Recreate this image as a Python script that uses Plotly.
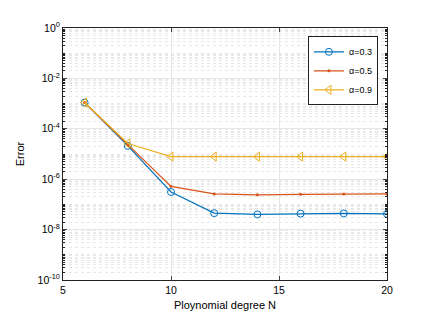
import plotly.graph_objects as go

# --- data ---
N = [6, 8, 10, 12, 14, 16, 18, 20]
err_03 = [1.1e-3, 2.1e-5, 3.1e-7, 4.5e-8, 4.0e-8, 4.3e-8, 4.4e-8, 4.2e-8]
err_05 = [1.1e-3, 2.3e-5, 5.2e-7, 2.6e-7, 2.4e-7, 2.5e-7, 2.6e-7, 2.6e-7]
err_09 = [1.1e-3, 2.6e-5, 7.9e-6, 7.9e-6, 7.9e-6, 7.9e-6, 7.9e-6, 7.9e-6]

x_ticks = [5, 10, 15, 20]
y_exps = [0, -2, -4, -6, -8, -10]

BLUE = "#0072BD"
ORANGE = "#D95319"
YELLOW = "#EDB120"

fig = go.Figure()
fig.add_trace(go.Scatter(
    x=N, y=err_03, mode="lines+markers", name="α=0.3",
    line=dict(color=BLUE, width=1.2),
    marker=dict(symbol="circle-open", size=7, color=BLUE, line=dict(width=1))
))
fig.add_trace(go.Scatter(
    x=N, y=err_05, mode="lines+markers", name="α=0.5",
    line=dict(color=ORANGE, width=1.2),
    marker=dict(symbol="circle", size=3, color=ORANGE)
))
fig.add_trace(go.Scatter(
    x=N, y=err_09, mode="lines+markers", name="α=0.9",
    line=dict(color=YELLOW, width=1.2),
    marker=dict(symbol="triangle-left-open", size=8, color=YELLOW, line=dict(width=1))
))

# minor log ticks (every k*10^n that is not a labelled tick)
major_vals = [10.0 ** e for e in y_exps]
minor_vals = []
for e in range(-10, 0):
    for k in range(1, 10):
        if k == 1 and e in y_exps:
            continue
        minor_vals.append(k * 10.0 ** e)

# page body has an 8px margin, so margins are shifted to compensate
fig.update_layout(
    width=433, height=320,
    paper_bgcolor="white", plot_bgcolor="white",
    margin=dict(l=49, r=54, t=12, b=48),
    font=dict(family="Liberation Sans, Arial", size=10.5, color="black"),
    legend=dict(
        x=0.972, y=0.967, xanchor="right", yanchor="top",
        bordercolor="#222", borderwidth=1, bgcolor="white",
        font=dict(size=9), tracegroupgap=0, itemwidth=30
    ),
    showlegend=True,
)
fig.update_xaxes(
    range=[5, 20], tickvals=x_ticks, ticks="inside", ticklen=4,
    showline=True, linecolor="#222", linewidth=1, mirror="ticks",
    showgrid=True, gridcolor="#e6e6e6", zeroline=False,
    title=dict(text="Ploynomial degree N", standoff=6, font=dict(size=11)),
)
fig.update_yaxes(
    type="log", range=[-10, 0],
    tickvals=major_vals,
    ticktext=["10<sup>%d</sup>" % e for e in y_exps],
    ticks="inside", ticklen=4,
    showline=True, linecolor="#222", linewidth=1, mirror="ticks",
    showgrid=True, gridcolor="#e6e6e6", zeroline=False,
    minor=dict(tickvals=minor_vals, ticks="inside", ticklen=2, tickcolor="#222",
               showgrid=True, gridcolor="#e8e8e8", griddash="dot", gridwidth=1),
    title=dict(text="Error", standoff=10, font=dict(size=11)),
)

fig.write_html("out.html")
